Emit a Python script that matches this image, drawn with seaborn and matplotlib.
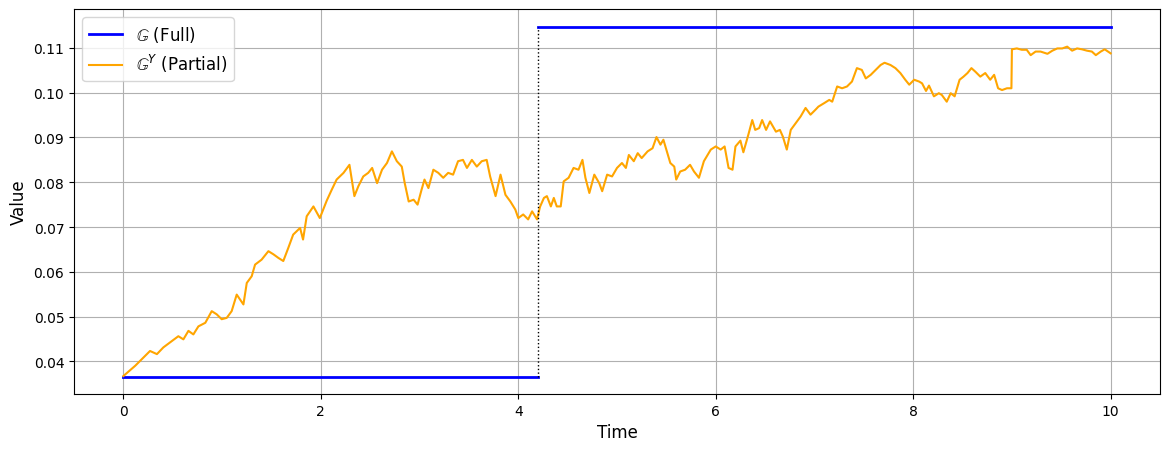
import numpy as np
import pandas as pd
import matplotlib
matplotlib.use("Agg")
import matplotlib.pyplot as plt
import seaborn as sns

# Partial-information process
t_partial = [0.00, 0.12, 0.27, 0.34, 0.405, 0.49, 0.557, 0.608, 0.659, 0.709, 0.76, 0.83, 0.895, 0.945,
             0.996, 1.047, 1.097, 1.148, 1.216, 1.25, 1.30, 1.334, 1.40, 1.469, 1.52, 1.57, 1.62, 1.67,
             1.72, 1.79, 1.82, 1.857, 1.925, 1.99, 2.06, 2.11, 2.16, 2.23, 2.29, 2.34, 2.38, 2.43, 2.48,
             2.52, 2.57, 2.62, 2.67, 2.72, 2.77, 2.82, 2.85, 2.89, 2.94, 2.98, 3.02, 3.05, 3.09, 3.14,
             3.19, 3.24, 3.29, 3.34, 3.39, 3.44, 3.48, 3.53, 3.58, 3.63, 3.68, 3.715, 3.77, 3.82, 3.87,
             3.92, 3.97, 4.00, 4.05, 4.10, 4.14, 4.19, 4.22, 4.26, 4.29, 4.33, 4.36, 4.39, 4.43, 4.46,
             4.51, 4.56, 4.61, 4.65, 4.68, 4.72, 4.77, 4.82, 4.85, 4.90, 4.95, 5.00, 5.05, 5.09, 5.12,
             5.17, 5.21, 5.25, 5.31, 5.36, 5.40, 5.44, 5.47, 5.51, 5.54, 5.58, 5.60, 5.64, 5.69, 5.74,
             5.78, 5.83, 5.88, 5.95, 6.00, 6.05, 6.09, 6.13, 6.17, 6.20, 6.25, 6.28, 6.33, 6.37, 6.40,
             6.44, 6.47, 6.51, 6.55, 6.61, 6.65, 6.68, 6.72, 6.76, 6.81, 6.86, 6.91, 6.96, 7.01, 7.04,
             7.10, 7.15, 7.18, 7.23, 7.28, 7.33, 7.38, 7.43, 7.48, 7.52, 7.57, 7.62, 7.67, 7.71, 7.77,
             7.82, 7.87, 7.92, 7.96, 8.01, 8.06, 8.09, 8.13, 8.16, 8.21, 8.26, 8.29, 8.34, 8.38, 8.42,
             8.47, 8.51, 8.55, 8.59, 8.63, 8.68, 8.73, 8.78, 8.82, 8.86, 8.90, 8.95, 8.995, 9.00, 9.05,
             9.10, 9.15, 9.19, 9.24, 9.29, 9.36, 9.41, 9.46, 9.51, 9.56, 9.61, 9.66, 9.71, 9.76, 9.81,
             9.85, 9.90, 9.94, 10.00]
v_partial = [0.0367, 0.0390, 0.0423, 0.0416, 0.0431, 0.0445, 0.0456, 0.0449, 0.0468, 0.0460, 0.0478,
             0.0486, 0.0512, 0.0505, 0.0494, 0.0497, 0.0512, 0.0549, 0.0527, 0.0575, 0.0590, 0.0616,
             0.0627, 0.0646, 0.0639, 0.0631, 0.0624, 0.0653, 0.0683, 0.0698, 0.0672, 0.0724, 0.0746,
             0.0720, 0.0759, 0.0783, 0.0806, 0.0821, 0.0839, 0.0769, 0.0791, 0.0813, 0.0821, 0.0832,
             0.0798, 0.0828, 0.0843, 0.0869, 0.0847, 0.0835, 0.0798, 0.0757, 0.0761, 0.0750, 0.0783,
             0.0806, 0.0787, 0.0828, 0.0821, 0.0810, 0.0821, 0.0817, 0.0847, 0.0850, 0.0832, 0.0850,
             0.0835, 0.0847, 0.0850, 0.0813, 0.0769, 0.0817, 0.0772, 0.0757, 0.0739, 0.0720, 0.0728,
             0.0717, 0.0735, 0.0717, 0.0745, 0.0765, 0.0769, 0.0746, 0.0765, 0.0746, 0.0746, 0.0802,
             0.0810, 0.0832, 0.0828, 0.0850, 0.0810, 0.0776, 0.0817, 0.0798, 0.0780, 0.0817, 0.0813,
             0.0832, 0.0843, 0.0832, 0.0861, 0.0847, 0.0865, 0.0854, 0.0869, 0.0876, 0.0901, 0.0884,
             0.0895, 0.0865, 0.0843, 0.0835, 0.0806, 0.0824, 0.0828, 0.0839, 0.0824, 0.0810, 0.0847,
             0.0873, 0.0880, 0.0873, 0.0880, 0.0832, 0.0828, 0.0880, 0.0893, 0.0867, 0.0906, 0.0939,
             0.0917, 0.0921, 0.0939, 0.0917, 0.0936, 0.0913, 0.0917, 0.0902, 0.0873, 0.0917, 0.0932,
             0.0947, 0.0966, 0.0951, 0.0962, 0.0969, 0.0977, 0.0984, 0.0980, 0.1014, 0.1010, 0.1014,
             0.1025, 0.1055, 0.1051, 0.1032, 0.1040, 0.1051, 0.1062, 0.1067, 0.1062, 0.1055, 0.1044,
             0.1029, 0.1018, 0.1029, 0.1025, 0.1021, 0.1004, 0.1016, 0.0992, 0.0999, 0.0995, 0.0980,
             0.0999, 0.0992, 0.1029, 0.1036, 0.1044, 0.1055, 0.1047, 0.1036, 0.1044, 0.1029, 0.1040,
             0.1010, 0.1006, 0.1010, 0.1010, 0.1097, 0.1099, 0.1096, 0.1096, 0.1084, 0.1092, 0.1092,
             0.1087, 0.1094, 0.1099, 0.1099, 0.1103, 0.1094, 0.1099, 0.1097, 0.1094, 0.1092, 0.1084,
             0.1092, 0.1097, 0.1088]

# Full-information process: two constant segments
t_full = [0.0, 4.2, 4.2, 10.0]
v_full = [0.0366, 0.0366, 0.1148, 0.1148]
seg_full = [0, 0, 1, 1]

jump_time = 4.2

df_partial = pd.DataFrame({"Time": t_partial, "Value": v_partial})
df_full = pd.DataFrame({"Time": t_full, "Value": v_full, "seg": seg_full})

fig, ax = plt.subplots(figsize=(11.69, 4.52), dpi=100)
fig.subplots_adjust(left=74 / 1169, right=1160 / 1169, top=1 - 10 / 452, bottom=1 - 395 / 452)

sns.lineplot(data=df_full, x="Time", y="Value", units="seg", estimator=None,
             color="blue", linewidth=2, label=r"$\mathbb{G}$ (Full)", ax=ax, sort=False)
sns.lineplot(data=df_partial, x="Time", y="Value", estimator=None,
             color="orange", linewidth=1.5, label=r"$\mathbb{G}^Y$ (Partial)", ax=ax, sort=False)
ax.vlines(jump_time, v_full[0], v_full[-1], colors="black", linestyles=":", linewidth=1)

ax.set_xlabel("Time", fontsize=12)
ax.set_ylabel("Value", fontsize=12)
ax.grid(True)

handles, labels = ax.get_legend_handles_labels()
seen = {}
for h, l in zip(handles, labels):
    if l not in seen:
        seen[l] = h
ax.legend(list(seen.values()), list(seen.keys()), loc="upper left", fontsize=12)

fig.savefig("out.png", dpi=100)
